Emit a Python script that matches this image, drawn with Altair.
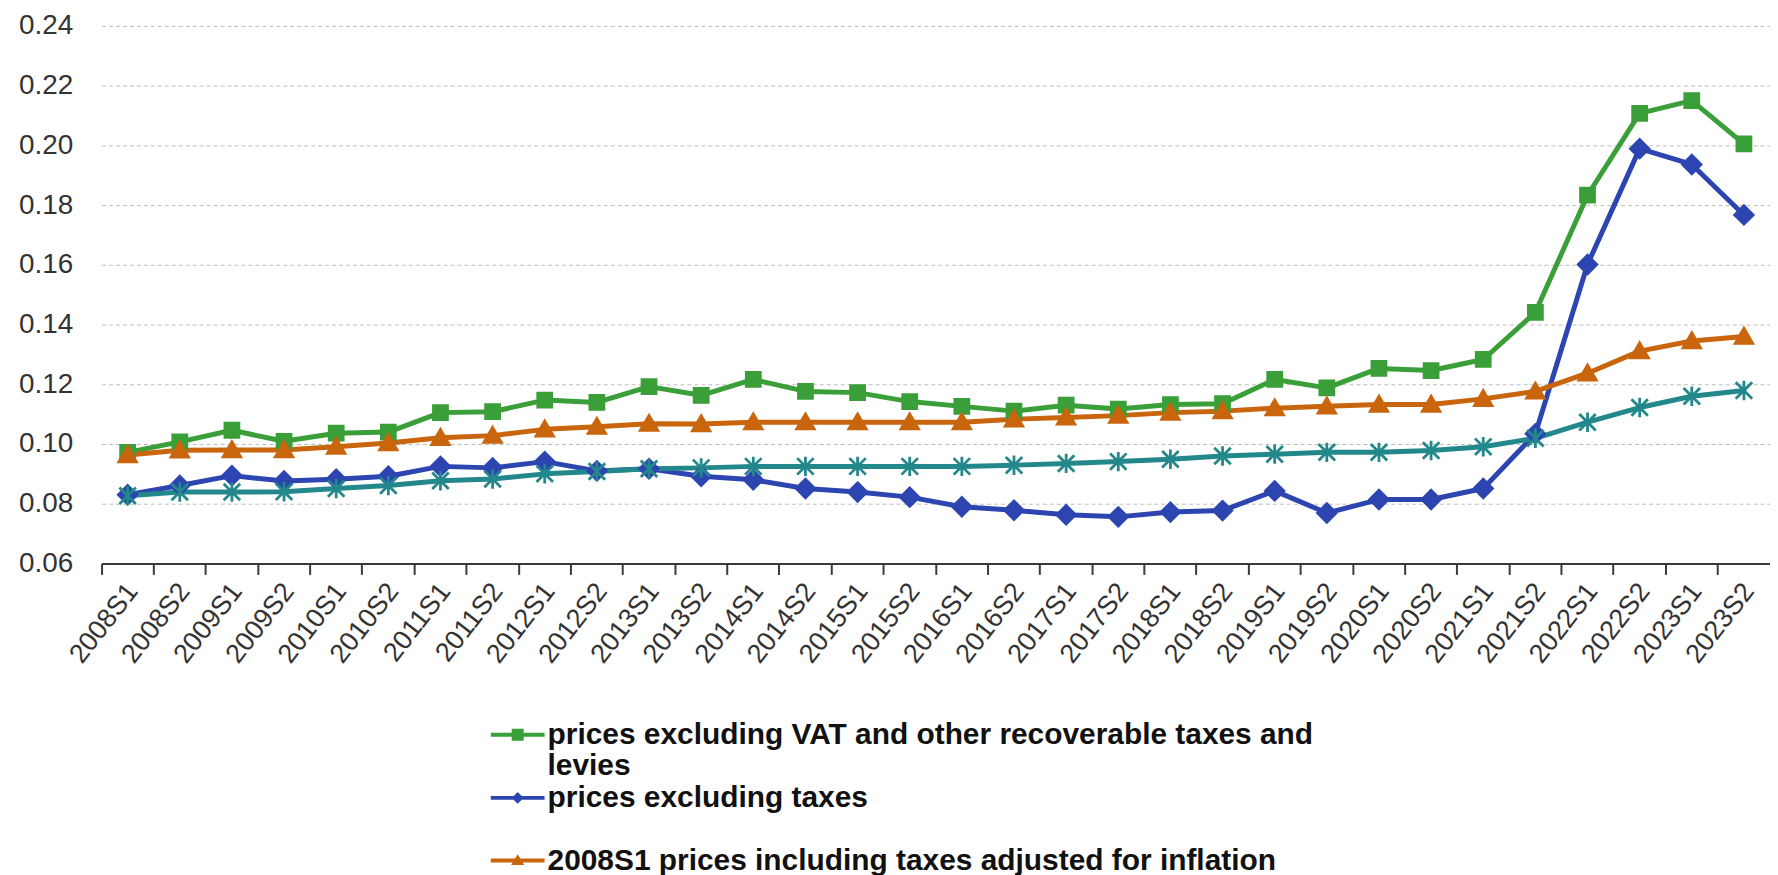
import altair as alt
import pandas as pd

periods = ["2008S1", "2008S2", "2009S1", "2009S2", "2010S1", "2010S2", "2011S1", "2011S2",
           "2012S1", "2012S2", "2013S1", "2013S2", "2014S1", "2014S2", "2015S1", "2015S2",
           "2016S1", "2016S2", "2017S1", "2017S2", "2018S1", "2018S2", "2019S1", "2019S2",
           "2020S1", "2020S2", "2021S1", "2021S2", "2022S1", "2022S2", "2023S1", "2023S2"]

excl_vat = [0.0972, 0.1007, 0.1046, 0.1009, 0.1036, 0.1040, 0.1105, 0.1108,
            0.1147, 0.1139, 0.1192, 0.1163, 0.1216, 0.1176, 0.1172, 0.1142,
            0.1126, 0.1110, 0.1130, 0.1117, 0.1132, 0.1135, 0.1216, 0.1188,
            0.1253, 0.1246, 0.1283, 0.1441, 0.1833, 0.2107, 0.2150, 0.2005]

excl_taxes = [0.0830, 0.0861, 0.0894, 0.0876, 0.0882, 0.0892, 0.0925, 0.0920,
              0.0941, 0.0910, 0.0917, 0.0892, 0.0880, 0.0851, 0.0839, 0.0822,
              0.0790, 0.0778, 0.0763, 0.0756, 0.0772, 0.0777, 0.0843, 0.0769,
              0.0814, 0.0814, 0.0851, 0.1034, 0.1601, 0.1989, 0.1936, 0.1767]

infl_excl = [0.0827, 0.0839, 0.0839, 0.0840, 0.0851, 0.0861, 0.0877, 0.0883,
             0.0900, 0.0908, 0.0917, 0.0920, 0.0925, 0.0925, 0.0925, 0.0925,
             0.0925, 0.0929, 0.0935, 0.0941, 0.0949, 0.0960, 0.0966, 0.0972,
             0.0972, 0.0978, 0.0991, 0.1019, 0.1073, 0.1122, 0.1160, 0.1179]

infl_incl = [0.0963, 0.0979, 0.0980, 0.0980, 0.0991, 0.1003, 0.1021, 0.1028,
             0.1049, 0.1058, 0.1068, 0.1067, 0.1073, 0.1073, 0.1073, 0.1073,
             0.1073, 0.1083, 0.1089, 0.1095, 0.1105, 0.1110, 0.1120, 0.1126,
             0.1132, 0.1132, 0.1151, 0.1176, 0.1237, 0.1311, 0.1345, 0.1360]

S_VAT = "prices excluding VAT and other recoverable taxes and levies"
S_TAX = "prices excluding taxes"
S_TEAL = "2008S1 prices excluding taxes adjusted for inflation"
S_INF = "2008S1 prices including taxes adjusted for inflation"

series_order = [S_VAT, S_TAX, S_TEAL, S_INF]
series_values = [excl_vat, excl_taxes, infl_excl, infl_incl]
line_colors = ["#3a9f38", "#2c45b0", "#23888b", "#c9650c"]
legend_colors = ["#3a9f38", "#2c45b0", "#ffffff", "#c9650c"]

marker_paths = [
    "M-0.72,-0.72H0.72V0.72H-0.72Z",
    "M0,-0.95L0.95,0L0,0.95L-0.95,0Z",
    "M-0.85,-0.85L0.85,0.85M-0.85,0.85L0.85,-0.85M0,-1L0,1",
    "M0,-0.85L0.9,0.7L-0.9,0.7Z",
]

legend_paths = [
    "M-1.8,-0.133H1.8V0.133H-1.8Z M-0.4,-0.4H0.4V0.4H-0.4Z",
    "M-1.8,-0.133H1.8V0.133H-1.8Z M0,-0.4L0.4,0L0,0.4L-0.4,0Z",
    "M-0.1,-0.97H0.1V0.97H-0.1Z",
    "M-1.8,-0.133H1.8V0.133H-1.8Z M0,-0.42L0.44,0.3L-0.44,0.3Z",
]

rows = []
for name, vals in zip(series_order, series_values):
    for p, v in zip(periods, vals):
        rows.append({"period": p, "series": name, "value": v})
df = pd.DataFrame(rows)

FONT = "Liberation Sans"

x_enc = alt.X(
    "period:N",
    sort=periods,
    scale=alt.Scale(type="band", paddingInner=0, paddingOuter=0),
    axis=alt.Axis(
        title=None, bandPosition=0, labelAngle=-52, labelAlign="right",
        labelBaseline="middle", labelFontSize=27, labelFont=FONT,
        labelColor="#333333", labelPadding=12, labelOffset=5, labelOverlap=False,
        labelFlush=False, domainColor="#3a3a3a", domainWidth=2,
        tickColor="#3a3a3a", tickWidth=2, tickSize=11, grid=False,
    ),
)

y_enc = alt.Y(
    "value:Q",
    scale=alt.Scale(domain=[0.06, 0.24], nice=False, zero=False),
    axis=alt.Axis(
        title=None, values=[0.06, 0.08, 0.10, 0.12, 0.14, 0.16, 0.18, 0.20, 0.22, 0.24],
        format=".2f", labelFontSize=28, labelFont=FONT, labelColor="#333333",
        labelPadding=29, ticks=False, tickSize=0, domain=False,
        grid=True, gridColor="#bdbdbd", gridDash=[4, 3], gridWidth=1,
    ),
)

lines = alt.Chart(df).mark_line(strokeWidth=5, strokeJoin="round", strokeCap="round").encode(
    x=x_enc,
    y=y_enc,
    color=alt.Color("series:N", scale=alt.Scale(domain=series_order, range=line_colors), legend=None),
)

points = alt.Chart(df).mark_point(filled=True, size=380, strokeWidth=2.8, opacity=1).encode(
    x=x_enc,
    y=y_enc,
    color=alt.Color("series:N", scale=alt.Scale(domain=series_order, range=line_colors), legend=None),
    stroke=alt.Stroke("series:N", scale=alt.Scale(domain=series_order, range=line_colors), legend=None),
    shape=alt.Shape("series:N", scale=alt.Scale(domain=series_order, range=marker_paths), legend=None),
)

label_expr = (
    "datum.label == '" + S_VAT + "' ? ['prices excluding VAT and other recoverable taxes and', 'levies'] : "
    "(datum.label == '" + S_TEAL + "' ? '' : datum.label)"
)

leg = alt.Legend(
    orient="none", legendX=403, legendY=697, direction="vertical", title=None,
    symbolSize=900, symbolStrokeWidth=0, symbolOpacity=1,
    labelFont=FONT, labelFontSize=30, labelFontWeight="bold", labelColor="#111111",
    labelOffset=15, labelLimit=1200, rowPadding=1.5, padding=0, labelExpr=label_expr,
)

legend_layer = alt.Chart(df).mark_point(filled=True, opacity=0).encode(
    x=x_enc,
    y=y_enc,
    color=alt.Color("series:N", scale=alt.Scale(domain=series_order, range=legend_colors), legend=leg),
    shape=alt.Shape("series:N", scale=alt.Scale(domain=series_order, range=legend_paths), legend=leg),
)

chart = alt.layer(lines, points, legend_layer).resolve_scale(
    color="independent", shape="independent"
).properties(
    width=1676, height=540,
    autosize=alt.AutoSizeParams(type="none"),
    padding={"left": 94, "top": 16, "right": 0, "bottom": 311},
    background="white",
).configure_view(strokeWidth=0)

chart.save("out.html", embed_options={"renderer": "svg", "actions": False})
